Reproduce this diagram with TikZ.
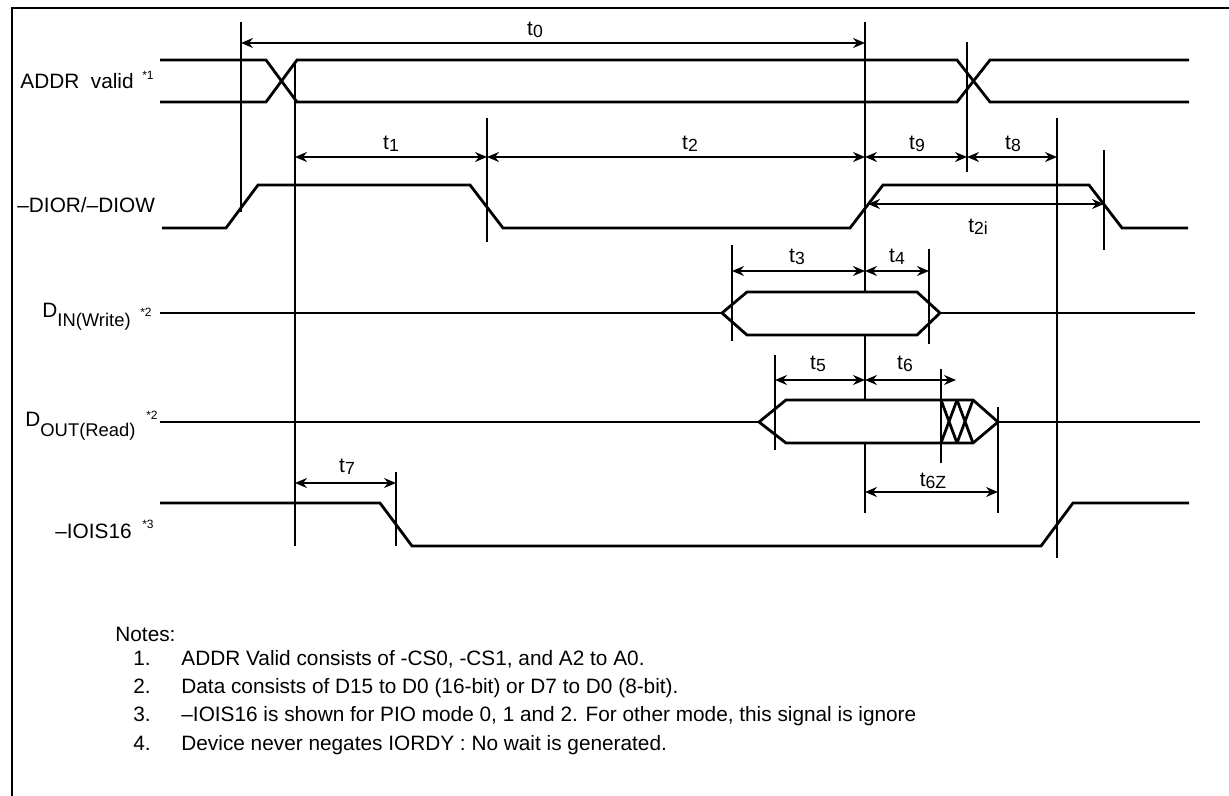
\documentclass[tikz,border=0pt]{standalone}
\usepackage{fontspec}
\setmainfont{Liberation Sans}
\usetikzlibrary{arrows.meta}
\newcommand{\tsub}[1]{t\raisebox{-1.2pt}{\fontsize{8.8}{9}\selectfont #1}}
\newcommand{\dsub}[1]{\raisebox{-5pt}{\fontsize{9.2}{9}\selectfont #1}}
\tikzset{
	wave/.style={line width=1.4pt},
	guide/.style={line width=0.8pt},
	dim/.style={line width=0.8pt, {Stealth[length=6pt,width=5pt,inset=2pt]}-{Stealth[length=6pt,width=5pt,inset=2pt]}},
	lbl/.style={inner sep=0pt, font=\fontsize{10.4}{12}\selectfont},
	starnote/.style={inner sep=0pt, font=\fontsize{6}{7}\selectfont},
}
\begin{document}
\begin{tikzpicture}[x=0.5pt,y=-0.5pt]
	%%%%% START %%%%%
	\useasboundingbox (0,0) rectangle (1229,796);
	
	\draw[line width=1pt] (12,796) -- (12,8) -- (1229,8);
	
	% guide lines
	\draw[guide] (241,22) -- (241,212);
	\draw[guide] (295,62) -- (295,546);
	\draw[guide] (487,118) -- (487,242);
	\draw[guide] (865,22) -- (865,513);
	\draw[guide] (967,42) -- (967,172);
	\draw[guide] (1057,118) -- (1057,558);
	\draw[guide] (1104,150) -- (1104,250);
	\draw[guide] (396,472) -- (396,546);
	
	% ADDR valid
	\draw[wave] (160,60) -- (266,60) -- (297,102) -- (957,102) -- (990,60) -- (1189,60);
	\draw[wave] (160,102) -- (266,102) -- (297,60) -- (957,60) -- (990,102) -- (1189,102);
	
	% -DIOR/-DIOW
	\draw[wave] (162,228) -- (226,228) -- (258,185) -- (470,185) -- (503,228) -- (850,228) -- (883,185) -- (1089,185) -- (1122,228) -- (1188,228);
	
	% D in
	\draw[wave] (160,313) -- (722,313);
	\draw[wave, fill=white] (722,313) -- (747,292) -- (917,292) -- (940,313) -- (917,335) -- (747,335) -- cycle;
	\draw[wave] (940,313) -- (1195,313);
	
	% D out
	\draw[wave] (160,422) -- (759,422);
	\draw[wave, fill=white] (759,422) -- (786,400) -- (973,400) -- (998,422) -- (973,443) -- (786,443) -- cycle;
	\draw[wave] (941,400) -- (957,443) (957,400) -- (941,443) (957,400) -- (973,443) (973,400) -- (957,443);
	\draw[wave] (998,422) -- (1200,422);
	
	% -IOIS16
	\draw[wave] (160,503) -- (380,503) -- (412,546) -- (1041,546) -- (1073,503) -- (1189,503);
	
	\draw[guide] (732,245) -- (732,341);
	\draw[guide] (929,249) -- (929,344);
	\draw[guide] (775,355) -- (775,450);
	\draw[guide] (941,369) -- (941,463);
	\draw[guide] (998,407) -- (998,513);
	
	% timing arrows
	\draw[dim] (241,43) -- (865,43);
	\draw[dim] (295,157) -- (487,157);
	\draw[dim] (487,157) -- (865,157);
	\draw[dim] (865,157) -- (967,157);
	\draw[dim] (967,157) -- (1057,157);
	\draw[dim] (868,204) -- (1104,204);
	\draw[dim] (732,271) -- (865,271);
	\draw[dim] (865,271) -- (929,271);
	\draw[dim] (775,380) -- (865,380);
	\draw[dim] (865,380) -- (956,380);
	\draw[dim] (865,492) -- (998,492);
	\draw[dim] (295,483) -- (396,483);
	
	\node[lbl] (tzero) at (535,30) {\tsub{0}};
	\node[lbl] (tone) at (391,144) {\tsub{1}};
	\node[lbl] (ttwo) at (690,144) {\tsub{2}};
	\node[lbl] (tnine) at (917,144) {\tsub{9}};
	\node[lbl] (teight) at (1013,144) {\tsub{8}};
	\node[lbl] (ttwoi) at (978,227) {\tsub{2i}};
	\node[lbl] (tthree) at (797,257) {\tsub{3}};
	\node[lbl] (tfour) at (897,257) {\tsub{4}};
	\node[lbl] (tfive) at (818,364) {\tsub{5}};
	\node[lbl] (tsix) at (905,364) {\tsub{6}};
	\node[lbl] (tsixz) at (933,481) {\tsub{6Z}};
	\node[lbl] (tseven) at (347,467) {\tsub{7}};
	
	% signal names
	\node[lbl, anchor=base west] (addrlbl) at (20,89) {ADDR\ \ valid};
	\node[starnote] (addrmk) at (148,75) {*1};
	\node[lbl, anchor=base west] (diorlbl) at (17,213) {–DIOR/–DIOW};
	\node[lbl, anchor=base west] (dinlbl) at (42,317) {D\dsub{IN(Write)}};
	\node[starnote] (dinmk) at (146,312) {*2};
	\node[lbl, anchor=base west] (doutlbl) at (25,426) {D\dsub{OUT(Read)}};
	\node[starnote] (doutmk) at (152,415) {*2};
	\node[lbl, anchor=base west] (ioislbl) at (55,538) {–IOIS16};
	\node[starnote] (ioismk) at (148,524) {*3};
	
	% notes
	\node[lbl, anchor=base west] (notes) at (115,641) {Notes:};
	\node[lbl, anchor=base west] (nnum1) at (133,665) {1.};
	\node[lbl, anchor=base west] (ntxt1) at (181,665) {ADDR Valid consists of -CS0, -CS1, and A2 to A0.};
	\node[lbl, anchor=base west] (nnum2) at (133,693) {2.};
	\node[lbl, anchor=base west] (ntxt2) at (181,693) {Data consists of D15 to D0 (16-bit) or D7 to D0 (8-bit).};
	\node[lbl, anchor=base west] (nnum3) at (133,721) {3.};
	\node[lbl, anchor=base west] (ntxt3) at (181,721) {–IOIS16 is shown for PIO mode 0, 1 and 2. For other mode, this signal is ignore};
	\node[lbl, anchor=base west] (nnum4) at (133,750) {4.};
	\node[lbl, anchor=base west] (ntxt4) at (181,750) {Device never negates IORDY : No wait is generated.};
	
	%%%%% END %%%%%
\end{tikzpicture}
\end{document}
